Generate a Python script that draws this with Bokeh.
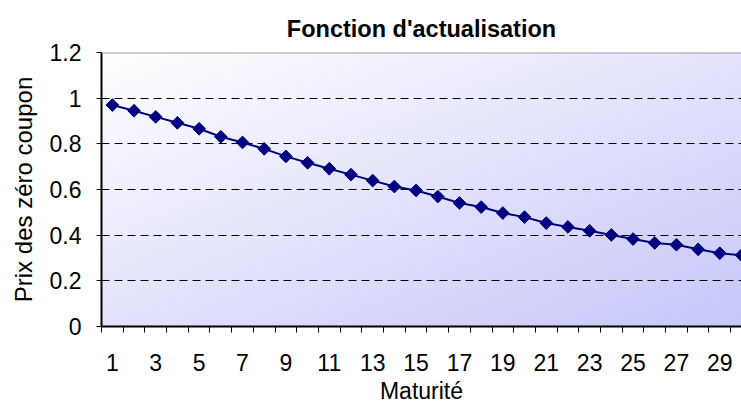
import numpy as np
from bokeh.plotting import figure
from bokeh.models import Range1d, FixedTicker, Span, Title
from bokeh.embed import file_html
from bokeh.resources import INLINE

maturities = list(range(1, 31))
prices = [0.97, 0.945, 0.918, 0.892, 0.866, 0.831, 0.806, 0.778, 0.745, 0.717,
          0.691, 0.665, 0.639, 0.613, 0.596, 0.569, 0.541, 0.523, 0.497, 0.479,
          0.453, 0.436, 0.419, 0.401, 0.383, 0.366, 0.358, 0.338, 0.321, 0.312]
x_tick_labels = list(range(1, 30, 2))
y_ticks = [0, 0.2, 0.4, 0.6, 0.8, 1.0, 1.2]
title_text = "Fonction d'actualisation"

FONT = "Liberation Sans"

p = figure(width=741, height=406, output_backend="svg", toolbar_location=None,
           x_range=Range1d(0.5, 30.0), y_range=Range1d(0, 1.2),
           min_border_left=101, min_border_right=0, min_border_top=52,
           min_border_bottom=80)
p.title = Title(text=title_text, align="center", text_font=FONT,
                text_font_size="23.5px", text_font_style="bold",
                text_color="black", standoff=22)

# gradient background (diagonal, white top-left to lavender bottom-right)
W, H = 651, 274
u = np.arange(W)[None, :] / (W - 1.0)
v = (H - 1 - np.arange(H)[:, None]) / (H - 1.0)
t = (u + v) / 2.0
r = (255 - t * (255 - 198)).astype(np.uint8)
g = (255 - t * (255 - 198)).astype(np.uint8)
b = (255 - t * (255 - 250)).astype(np.uint8)
img = np.zeros((H, W), dtype=np.uint32)
view = img.view(dtype=np.uint8).reshape((H, W, 4))
view[:, :, 0] = r
view[:, :, 1] = g
view[:, :, 2] = b
view[:, :, 3] = 255
bg = p.image_rgba(image=[img], x=0.5, y=0, dw=30.5, dh=1.2)
bg.level = "image"

p.outline_line_color = None
p.background_fill_color = "white"
p.border_fill_color = "white"

p.add_layout(Span(location=1.2, dimension="width", line_color="#a0a0a0", line_width=2))

# grid
p.xgrid.visible = False
p.ygrid.ticker = FixedTicker(ticks=[0.2, 0.4, 0.6, 0.8, 1.0])
p.ygrid.grid_line_color = "black"
p.ygrid.grid_line_dash = "8 5"
p.ygrid.grid_line_width = 1

# x axis
xa = p.xaxis[0]
xa.ticker = FixedTicker(ticks=x_tick_labels, minor_ticks=[i + 0.5 for i in range(0, 31)])
xa.major_tick_line_color = None
xa.major_tick_out = 0
xa.major_tick_in = 0
xa.minor_tick_out = 6
xa.minor_tick_in = 0
xa.minor_tick_line_color = "black"
xa.axis_line_color = "black"
xa.axis_line_width = 2
xa.major_label_standoff = 21
xa.major_label_text_font = FONT
xa.major_label_text_font_size = "23px"
xa.major_label_text_color = "black"
xa.axis_label = "Maturité"
xa.axis_label_text_font = FONT
xa.axis_label_text_font_size = "23px"
xa.axis_label_text_font_style = "normal"
xa.axis_label_text_color = "black"
xa.axis_label_standoff = 4

# y axis
ya = p.yaxis[0]
ya.ticker = FixedTicker(ticks=y_ticks)
ya.minor_tick_line_color = None
ya.major_tick_out = 5
ya.major_tick_in = 0
ya.major_tick_line_color = "black"
ya.axis_line_color = "black"
ya.axis_line_width = 2
ya.major_label_standoff = 15
ya.major_label_text_font = FONT
ya.major_label_text_font_size = "23px"
ya.major_label_text_color = "black"
ya.axis_label = "Prix des zéro coupon"
ya.axis_label_text_font = FONT
ya.axis_label_text_font_size = "24px"
ya.axis_label_text_font_style = "normal"
ya.axis_label_text_color = "black"
ya.axis_label_standoff = 10

p.line(maturities, prices, line_color="#000080", line_width=2)
p.scatter(maturities, prices, marker="square", angle=np.pi / 4, size=9,
          fill_color="#000080", line_color="#000080")

open("out.html", "w").write(file_html(p, INLINE))
